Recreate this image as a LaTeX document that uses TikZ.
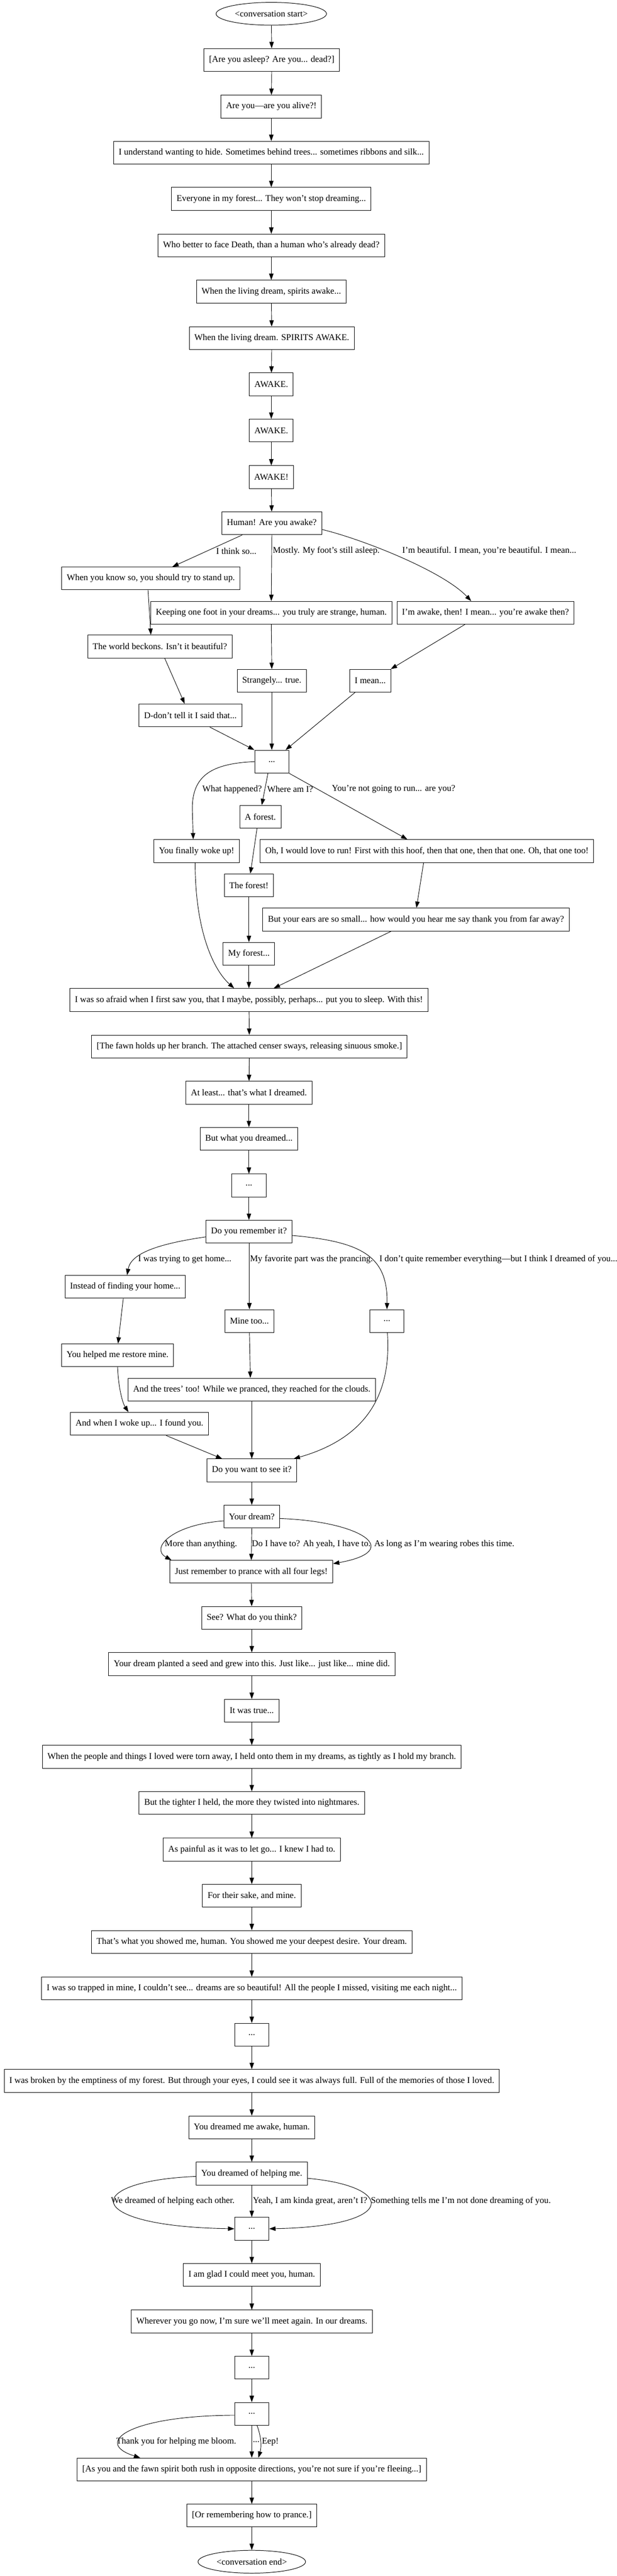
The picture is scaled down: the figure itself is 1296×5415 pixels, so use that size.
\documentclass[tikz,border=0pt]{standalone}
\usepackage{fontspec}
\setmainfont{Liberation Serif}
\usetikzlibrary{arrows.meta,calc,shapes.geometric}
\begin{document}
\begin{tikzpicture}[x=0.75pt,y=-0.75pt,
  txt/.style={font=\fontsize{14pt}{16pt}\selectfont},
  box/.style={txt,draw,line width=0.8pt,rectangle,minimum height=36pt,minimum width=54pt,inner xsep=8pt,inner ysep=2pt},
  term/.style={txt,draw,line width=0.8pt,ellipse,minimum height=36pt,inner sep=0pt},
  lab/.style={txt,anchor=west,inner sep=0pt},
  e/.style={-{Triangle[length=10pt,width=7pt]},line width=0.75pt}]
\useasboundingbox (0,0) rectangle (1296,5415);
% nodes
\node[term,minimum width=174pt] (start) at (570,29) {<conversation start>};
\node[box] (asleep) at (571,126) {[Are you asleep? Are you... dead?]};
\node[box] (alive) at (570,224) {Are you—are you alive?!};
\node[box] (understand) at (570,321) {I understand wanting to hide. Sometimes behind trees... sometimes ribbons and silk...};
\node[box] (everyone) at (570,418) {Everyone in my forest... They won’t stop dreaming...};
\node[box] (who) at (570,516) {Who better to face Death, than a human who’s already dead?};
\node[box] (living1) at (570,613) {When the living dream, spirits awake...};
\node[box] (living2) at (571,711) {When the living dream. SPIRITS AWAKE.};
\node[box] (awake1) at (570,808) {AWAKE.};
\node[box] (awake2) at (570,905) {AWAKE.};
\node[box] (awake3) at (570,1003) {AWAKE!};
\node[box] (human) at (571,1100) {Human! Are you awake?};
\node[box] (standup) at (317,1216) {When you know so, you should try to stand up.};
\node[box] (keeping) at (570,1288) {Keeping one foot in your dreams... you truly are strange, human.};
\node[box] (imawake) at (1020,1288) {I’m awake, then! I mean... you’re awake then?};
\node[box] (beckons) at (336,1359) {The world beckons. Isn’t it beautiful?};
\node[box] (strangely) at (571,1431) {Strangely... true.};
\node[box] (imean) at (778,1431) {I mean...};
\node[box] (dont) at (400,1504) {D-don’t tell it I said that...};
\node[box] (dots1) at (571,1601) {...};
\node[box] (aforest) at (547,1717) {A forest.};
\node[box] (finally) at (413,1789) {You finally woke up!};
\node[box] (ohrun) at (897,1789) {Oh, I would love to run! First with this hoof, then that one, then that one. Oh, that one too!};
\node[box] (theforest) at (523,1861) {The forest!};
\node[box] (ears) at (874,1933) {But your ears are so small... how would you hear me say thank you from far away?};
\node[box] (myforest) at (523,2005) {My forest...};
\node[box] (afraid) at (523,2102) {I was so afraid when I first saw you, that I maybe, possibly, perhaps... put you to sleep. With this!};
\node[box] (fawn) at (524,2200) {[The fawn holds up her branch. The attached censer sways, releasing sinuous smoke.]};
\node[box] (atleast) at (523,2297) {At least... that’s what I dreamed.};
\node[box] (butwhat) at (523,2394) {But what you dreamed...};
\node[box] (dots2) at (523,2492) {...};
\node[box] (remember) at (523,2589) {Do you remember it?};
\node[box] (instead) at (263,2705) {Instead of finding your home...};
\node[box] (minetoo) at (524,2777) {Mine too...};
\node[box] (dots3) at (813,2777) {...};
\node[box] (helped) at (247,2849) {You helped me restore mine.};
\node[box] (trees) at (529,2921) {And the trees’ too! While we pranced, they reached for the clouds.};
\node[box] (woke) at (293,2993) {And when I woke up... I found you.};
\node[box] (wantsee) at (529,3091) {Do you want to see it?};
\node[box] (yourdream) at (529,3188) {Your dream?};
\node[box] (justrem) at (528,3304) {Just remember to prance with all four legs!};
\node[box] (see) at (529,3401) {See? What do you think?};
\node[box] (seed) at (529,3498) {Your dream planted a seed and grew into this. Just like... just like... mine did.};
\node[box] (true) at (529,3596) {It was true...};
\node[box] (people) at (529,3693) {When the people and things I loved were torn away, I held onto them in my dreams, as tightly as I hold my branch.};
\node[box] (tighter) at (529,3790) {But the tighter I held, the more they twisted into nightmares.};
\node[box] (painful) at (529,3888) {As painful as it was to let go... I knew I had to.};
\node[box] (sake) at (529,3985) {For their sake, and mine.};
\node[box] (thats) at (529,4082) {That’s what you showed me, human. You showed me your deepest desire. Your dream.};
\node[box] (trapped) at (529,4180) {I was so trapped in mine, I couldn’t see... dreams are so beautiful! All the people I missed, visiting me each night...};
\node[box] (dots4) at (529,4277) {...};
\node[box] (broken) at (529,4374) {I was broken by the emptiness of my forest. But through your eyes, I could see it was always full. Full of the memories of those I loved.};
\node[box] (dreamedme) at (529,4472) {You dreamed me awake, human.};
\node[box] (helping) at (529,4569) {You dreamed of helping me.};
\node[box] (dots5) at (529,4685) {...};
\node[box] (glad) at (529,4782) {I am glad I could meet you, human.};
\node[box] (wherever) at (529,4880) {Wherever you go now, I’m sure we’ll meet again. In our dreams.};
\node[box] (dots6) at (529,4977) {...};
\node[box] (dots7) at (529,5074) {...};
\node[box] (rush) at (529,5191) {[As you and the fawn spirit both rush in opposite directions, you’re not sure if you’re fleeing...]};
\node[box] (rememb) at (529,5288) {[Or remembering how to prance.]};
\node[term,minimum width=169.5pt] (endn) at (529,5385) {<conversation end>};
% straight chain
\draw[e] (start) -- (asleep);
\draw[e] (asleep) -- (alive);
\draw[e] (alive) -- (understand);
\draw[e] (understand) -- (everyone);
\draw[e] (everyone) -- (who);
\draw[e] (who) -- (living1);
\draw[e] (living1) -- (living2);
\draw[e] (living2) -- (awake1);
\draw[e] (awake1) -- (awake2);
\draw[e] (awake2) -- (awake3);
\draw[e] (awake3) -- (human);
% human branches
\draw[e] ($(human.south)+(-62,0)$) -- ($(standup.north)+(45,0)$);
\node[lab] (l1) at (454,1158) {I think so...};
\draw[e] (human.south) -- (keeping.north);
\node[lab] (l2) at (573,1158) {Mostly. My foot’s still asleep.};
\draw[e] ($(human.east)+(0,13)$) .. controls (760,1133) and (930,1200) .. ($(imawake.north)+(-30,0)$);
\node[lab] (l3) at (845,1158) {I’m beautiful. I mean, you’re beautiful. I mean...};
\draw[e] ($(standup.south)+(-6,0)$) -- ($(beckons.north)+(-19,0)$);
\draw[e] (keeping.south) -- (strangely.north);
\draw[e] ($(imawake.south)+(-43,0)$) -- ($(imean.north)+(43,0)$);
\draw[e] ($(beckons.south)+(10,0)$) -- ($(dont.north)+(-12,0)$);
\draw[e] (strangely.south) -- (dots1.north);
\draw[e] ($(imean.south)+(-32,0)$) -- ($(dots1.north)+(29,0)$);
\draw[e] ($(dont.south)+(41,0)$) -- (dots1.north west);
% dots1 branches
\draw[e] (dots1.west) .. controls (445,1605) and (404,1630) .. (404,1700) -- ($(finally.north)+(-7,0)$);
\node[lab] (l4) at (425,1659) {What happened?};
\draw[e] ($(dots1.south)+(-8,0)$) -- ($(aforest.north)+(3,0)$);
\node[lab] (l5) at (561,1659) {Where am I?};
\draw[e] (dots1.south east) -- ($(ohrun.north)+(-41,0)$);
\node[lab] (l6) at (697,1659) {You’re not going to run... are you?};
\draw[e] ($(aforest.south)+(-7,0)$) -- ($(theforest.north)+(3,0)$);
\draw[e] ($(ohrun.south)+(-7,0)$) -- ($(ears.north)+(1,0)$);
\draw[e] (theforest) -- (myforest);
\draw[e] ($(finally.south)+(-3,0)$) .. controls (410,1960) and (450,2040) .. ($(afraid.north)+(-31,0)$);
\draw[e] (myforest) -- (afraid);
\draw[e] ($(ears.south)+(-52,0)$) -- ($(afraid.north)+(52,0)$);
\draw[e] (afraid) -- (fawn);
\draw[e] (fawn) -- (atleast);
\draw[e] (atleast) -- (butwhat);
\draw[e] (butwhat) -- (dots2);
\draw[e] (dots2) -- (remember);
% remember branches
\draw[e] ($(remember.west)+(0,11)$) .. controls (330,2615) and (275,2635) .. ($(instead.north)+(4,0)$);
\node[lab] (l7) at (290,2647) {I was trying to get home...};
\draw[e] ($(remember.south)+(1,0)$) -- (minetoo.north);
\node[lab] (l8) at (525,2647) {My favorite part was the prancing.};
\draw[e] ($(remember.east)+(0,8)$) .. controls (760,2610) and (815,2640) .. (dots3.north);
\node[lab] (l9) at (797,2647) {I don’t quite remember everything—but I think I dreamed of you...};
\draw[e] ($(instead.south)+(-4,0)$) -- ($(helped.north)+(1,0)$);
\draw[e] (minetoo.south) -- ($(trees.north)+(-3,0)$);
\draw[e] (helped.south) .. controls (249,2920) and (258,2950) .. ($(woke.north)+(-23,0)$);
\draw[e] ($(dots3.south)+(1,0)$) .. controls (822,2920) and (780,3020) .. ($(wantsee.north east)+(-7,0)$);
\draw[e] (trees) -- (wantsee);
\draw[e] ($(woke.south)+(56,0)$) -- ($(wantsee.north)+(-62,0)$);
\draw[e] (wantsee) -- (yourdream);
% yourdream branches
\draw[e] ($(yourdream.west)+(0,9)$) .. controls (360,3205) and (315,3255) .. ($(justrem.north west)+(4,0)$);
\node[lab] (l10) at (346,3246) {More than anything.};
\draw[e] (yourdream.south) -- (justrem.north);
\node[lab] (l11) at (529,3246) {Do I have to? Ah yeah, I have to.};
\draw[e] ($(yourdream.east)+(0,4)$) .. controls (760,3198) and (850,3260) .. ($(justrem.east)+(0,-17)$);
\node[lab] (l12) at (786,3246) {As long as I’m wearing robes this time.};
\draw[e] (justrem) -- (see);
\draw[e] (see) -- (seed);
\draw[e] (seed) -- (true);
\draw[e] (true) -- (people);
\draw[e] (people) -- (tighter);
\draw[e] (tighter) -- (painful);
\draw[e] (painful) -- (sake);
\draw[e] (sake) -- (thats);
\draw[e] (thats) -- (trapped);
\draw[e] (trapped) -- (dots4);
\draw[e] (dots4) -- (broken);
\draw[e] (broken) -- (dreamedme);
\draw[e] (dreamedme) -- (helping);
% helping branches
\draw[e] ($(helping.west)+(0,6)$) .. controls (170,4585) and (170,4680) .. (dots5.west);
\node[lab] (l13) at (233,4627) {We dreamed of helping each other.};
\draw[e] (helping) -- (dots5);
\node[lab] (l14) at (531,4627) {Yeah, I am kinda great, aren’t I?};
\draw[e] ($(helping.east)+(0,10)$) .. controls (830,4595) and (840,4680) .. (dots5.east);
\node[lab] (l15) at (779,4627) {Something tells me I’m not done dreaming of you.};
\draw[e] (dots5) -- (glad);
\draw[e] (glad) -- (wherever);
\draw[e] (wherever) -- (dots6);
\draw[e] (dots6) -- (dots7);
% dots7 branches
\draw[e] ($(dots7.west)+(0,3)$) .. controls (270,5078) and (195,5135) .. ($(rush.north west)+(133,0)$);
\node[lab] (l16) at (244,5133) {Thank you for helping me bloom.};
\draw[e] (dots7.south) -- (rush.north);
\node[lab] (l17) at (531,5133) {...};
\draw[e] ($(dots7.south)+(11,0)$) .. controls (550,5125) and (549,5145) .. ($(rush.north)+(14,0)$);
\node[lab] (l18) at (550,5133) {Eep!};
\draw[e] (rush) -- (rememb);
\draw[e] (rememb) -- (endn);
\end{tikzpicture}
\end{document}
